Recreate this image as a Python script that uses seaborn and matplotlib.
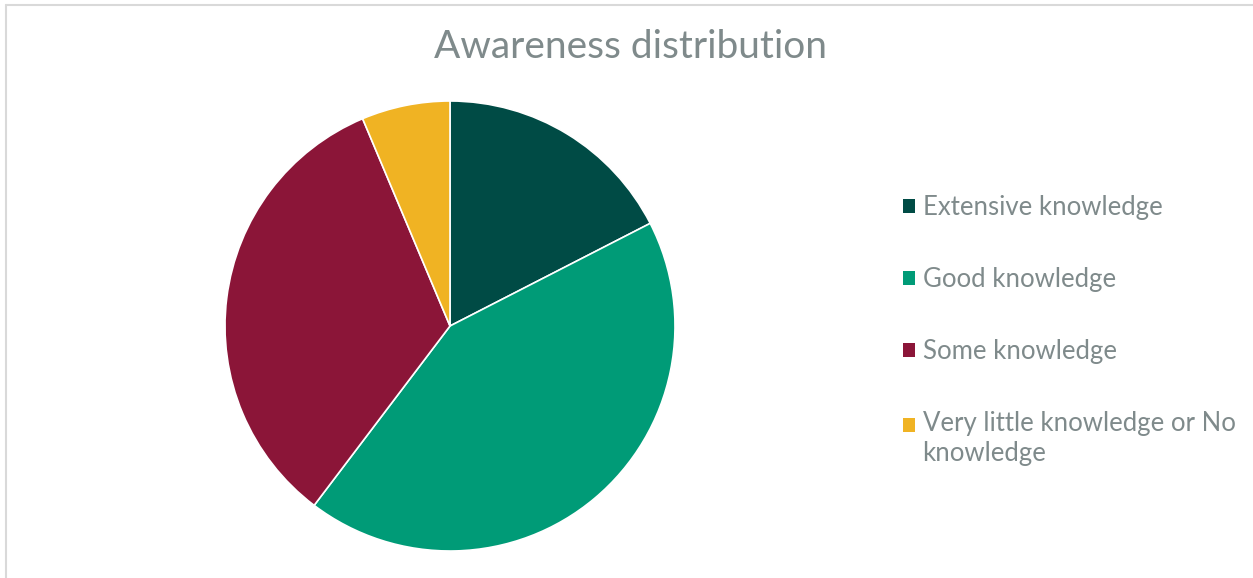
import matplotlib
matplotlib.use("Agg")
import matplotlib.pyplot as plt
from matplotlib.patches import Patch
from matplotlib.lines import Line2D
import seaborn as sns

# Survey responses per awareness level
categories = ["Extensive knowledge", "Good knowledge", "Some knowledge",
              "Very little knowledge or No\nknowledge"]
counts = [11, 27, 21, 4]
colors = ["#004B45", "#009B77", "#8B1538", "#F0B323"]

sns.set_theme(style="white")
plt.rcParams["font.family"] = ["Lato", "DejaVu Sans"]
text_color = "#7F8A8B"

W, H = 1253, 578
fig = plt.figure(figsize=(W / 100, H / 100), dpi=100)

# Pie axes: centre (450, 326) px, radius 225 px
cx, cy, r = 450, 326, 225
ax = fig.add_axes([(cx - r) / W, (H - cy - r) / H, 2 * r / W, 2 * r / H])
palette = sns.color_palette(colors)
ax.pie(counts, colors=palette, startangle=90, counterclock=False,
       radius=1.0, wedgeprops=dict(linewidth=1.2, edgecolor="white"))
ax.set_xlim(-1, 1)
ax.set_ylim(-1, 1)
ax.set_aspect("equal")
ax.axis("off")

fig.text(631 / W, 1 - 47 / H, "Awareness distribution", ha="center", va="center",
         fontsize=28, color=text_color)

handles = [Patch(facecolor=c, edgecolor="none") for c in palette]
leg = fig.legend(handles, categories, loc="upper left",
                 bbox_to_anchor=(903 / W, 1 - 195 / H), frameon=False,
                 fontsize=18.5, labelspacing=1.83, handlelength=0.48,
                 handleheight=0.48, handletextpad=0.28, labelcolor=text_color,
                 borderaxespad=0, borderpad=0)
for t in leg.get_texts():
    t.set_linespacing(1.25)
# Align the swatch of the two-line entry with its first line
last = leg.legend_handles[-1]
last.set_y(last.get_y() + 10.5)

# Light frame along top and left edges
fig.add_artist(Line2D([6 / W, 1], [1 - 5 / H, 1 - 5 / H], color="#D9D9D9", lw=1.5,
                      transform=fig.transFigure))
fig.add_artist(Line2D([6 / W, 6 / W], [0, 1 - 5 / H], color="#D9D9D9", lw=1.5,
                      transform=fig.transFigure))

fig.savefig("out.png", dpi=100, facecolor="white")
